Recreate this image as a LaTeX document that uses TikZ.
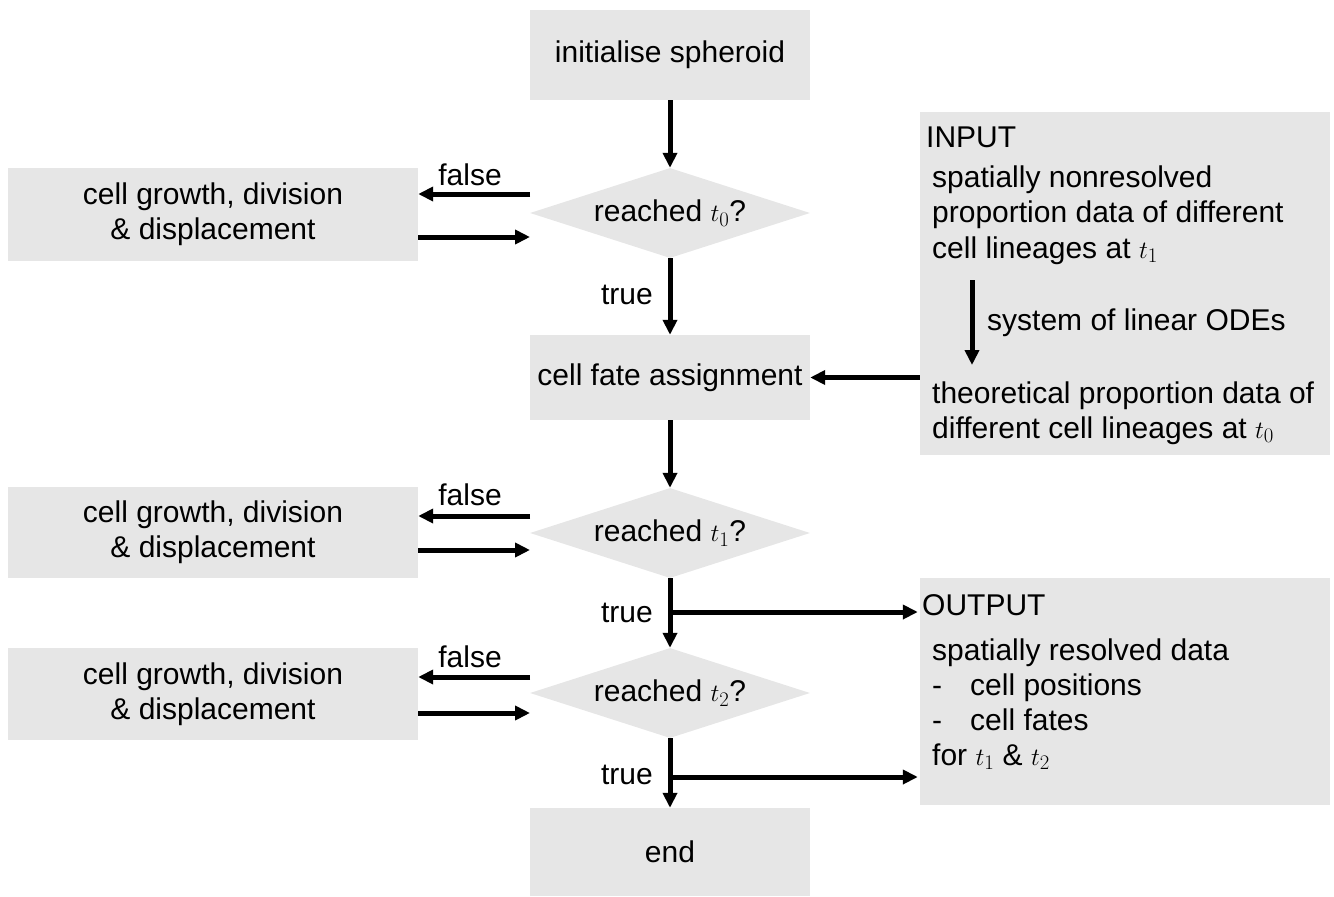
\documentclass[tikz,border=0pt]{standalone}
\usepackage{fontspec}
\setmainfont{Liberation Sans}
\usetikzlibrary{shapes.geometric,arrows.meta,calc}
\definecolor{boxgray}{HTML}{E6E6E6}
\begin{document}
\begin{tikzpicture}[x=1pt,y=-1pt,
  every node/.style={font=\fontsize{30}{35}\selectfont},
  box/.style={fill=boxgray, draw=none, inner sep=0pt, align=center},
  dec/.style={shape=diamond, fill=boxgray, draw=none, inner sep=0pt, aspect=3.11,
    minimum width=280pt, minimum height=90pt},
  arr/.style={line width=5pt, -{Triangle[length=15pt,width=14pt]}},
  lbl/.style={inner sep=0pt},
  txt/.style={anchor=base west, inner sep=0pt}
]
\useasboundingbox (0,0) rectangle (1334,897);

% main column
\node[box, minimum width=280pt, minimum height=90pt] (init) at (670,55) {initialise spheroid};
\node[dec] (d1) at (670,213) {reached $t_0$?};
\node[box, minimum width=280pt, minimum height=85pt] (fate) at (670,377.5) {cell fate assignment};
\node[dec] (d2) at (670,533) {reached $t_1$?};
\node[dec] (d3) at (670,693) {reached $t_2$?};
\node[box, minimum width=280pt, minimum height=88pt] (end) at (670,852) {end};

% left boxes
\node[box, minimum width=410pt, minimum height=93pt] (lb1) at (213,214.5) {cell growth, division\\\& displacement};
\node[box, minimum width=410pt, minimum height=91pt] (lb2) at (213,532.5) {cell growth, division\\\& displacement};
\node[box, minimum width=410pt, minimum height=92pt] (lb3) at (213,694) {cell growth, division\\\& displacement};

% right boxes
\node[box, minimum width=410pt, minimum height=343pt] (input) at (1125,283.5) {};
\node[box, minimum width=410pt, minimum height=227pt] (output) at (1125,691.5) {};

% input text
\node[txt] (inT) at (926,147) {INPUT};
\node[txt] (in1) at (932,187) {spatially nonresolved};
\node[txt] (in2) at (932,222) {proportion data of different};
\node[txt] (in3) at (932,258) {cell lineages at $t_1$};
\node[txt] (in4) at (987,330) {system of linear ODEs};
\node[txt] (in5) at (932,403) {theoretical proportion data of};
\node[txt] (in6) at (932,438) {different cell lineages at $t_0$};
\coordinate (ia) at (972,280);
\coordinate (ib) at (972,365);
\draw[arr] (ia) -- (ib);

% output text
\node[txt] (outT) at (922,615) {OUTPUT};
\node[txt] (out1) at (932,660) {spatially resolved data};
\node[txt] (out2a) at (932,695) {-};
\node[txt] (out2) at (970,695) {cell positions};
\node[txt] (out3a) at (932,730) {-};
\node[txt] (out3) at (970,730) {cell fates};
\node[txt] (out4) at (932,765) {for $t_1$ \& $t_2$};

% vertical flow
\draw[arr] (init.south) -- (d1.north);
\draw[arr] (d1.south) -- (fate.north);
\draw[arr] (fate.south) -- (d2.north);
\draw[arr] (d2.south) -- (d3.north);
\draw[arr] (d3.south) -- (end.north);

\node[lbl] (tr1) at (627,295) {true};
\node[lbl] (tr2) at (627,613) {true};
\node[lbl] (tr3) at (627,775) {true};

% input -> fate
\draw[arr] (input.west |- fate.east) -- (fate.east);

% branches to output
\coordinate (b1) at (670,612);
\coordinate (b2) at (670,777);
\draw[arr] (b1) -- ($(output.west |- b1)+(-2,0)$);
\draw[arr] (b2) -- ($(output.west |- b2)+(-2,0)$);

% false loops
\coordinate (f1) at (530,194);
\coordinate (g1) at (530,237);
\coordinate (f2) at (530,516);
\coordinate (g2) at (530,550);
\coordinate (f3) at (530,677);
\coordinate (g3) at (530,713);
\draw[arr] (f1) -- (lb1.east |- f1);
\draw[arr] (lb1.east |- g1) -- (g1);
\draw[arr] (f2) -- (lb2.east |- f2);
\draw[arr] (lb2.east |- g2) -- (g2);
\draw[arr] (f3) -- (lb3.east |- f3);
\draw[arr] (lb3.east |- g3) -- (g3);
\node[lbl] (fl1) at (470,175) {false};
\node[lbl] (fl2) at (470,495) {false};
\node[lbl] (fl3) at (470,657) {false};
\end{tikzpicture}
\end{document}
